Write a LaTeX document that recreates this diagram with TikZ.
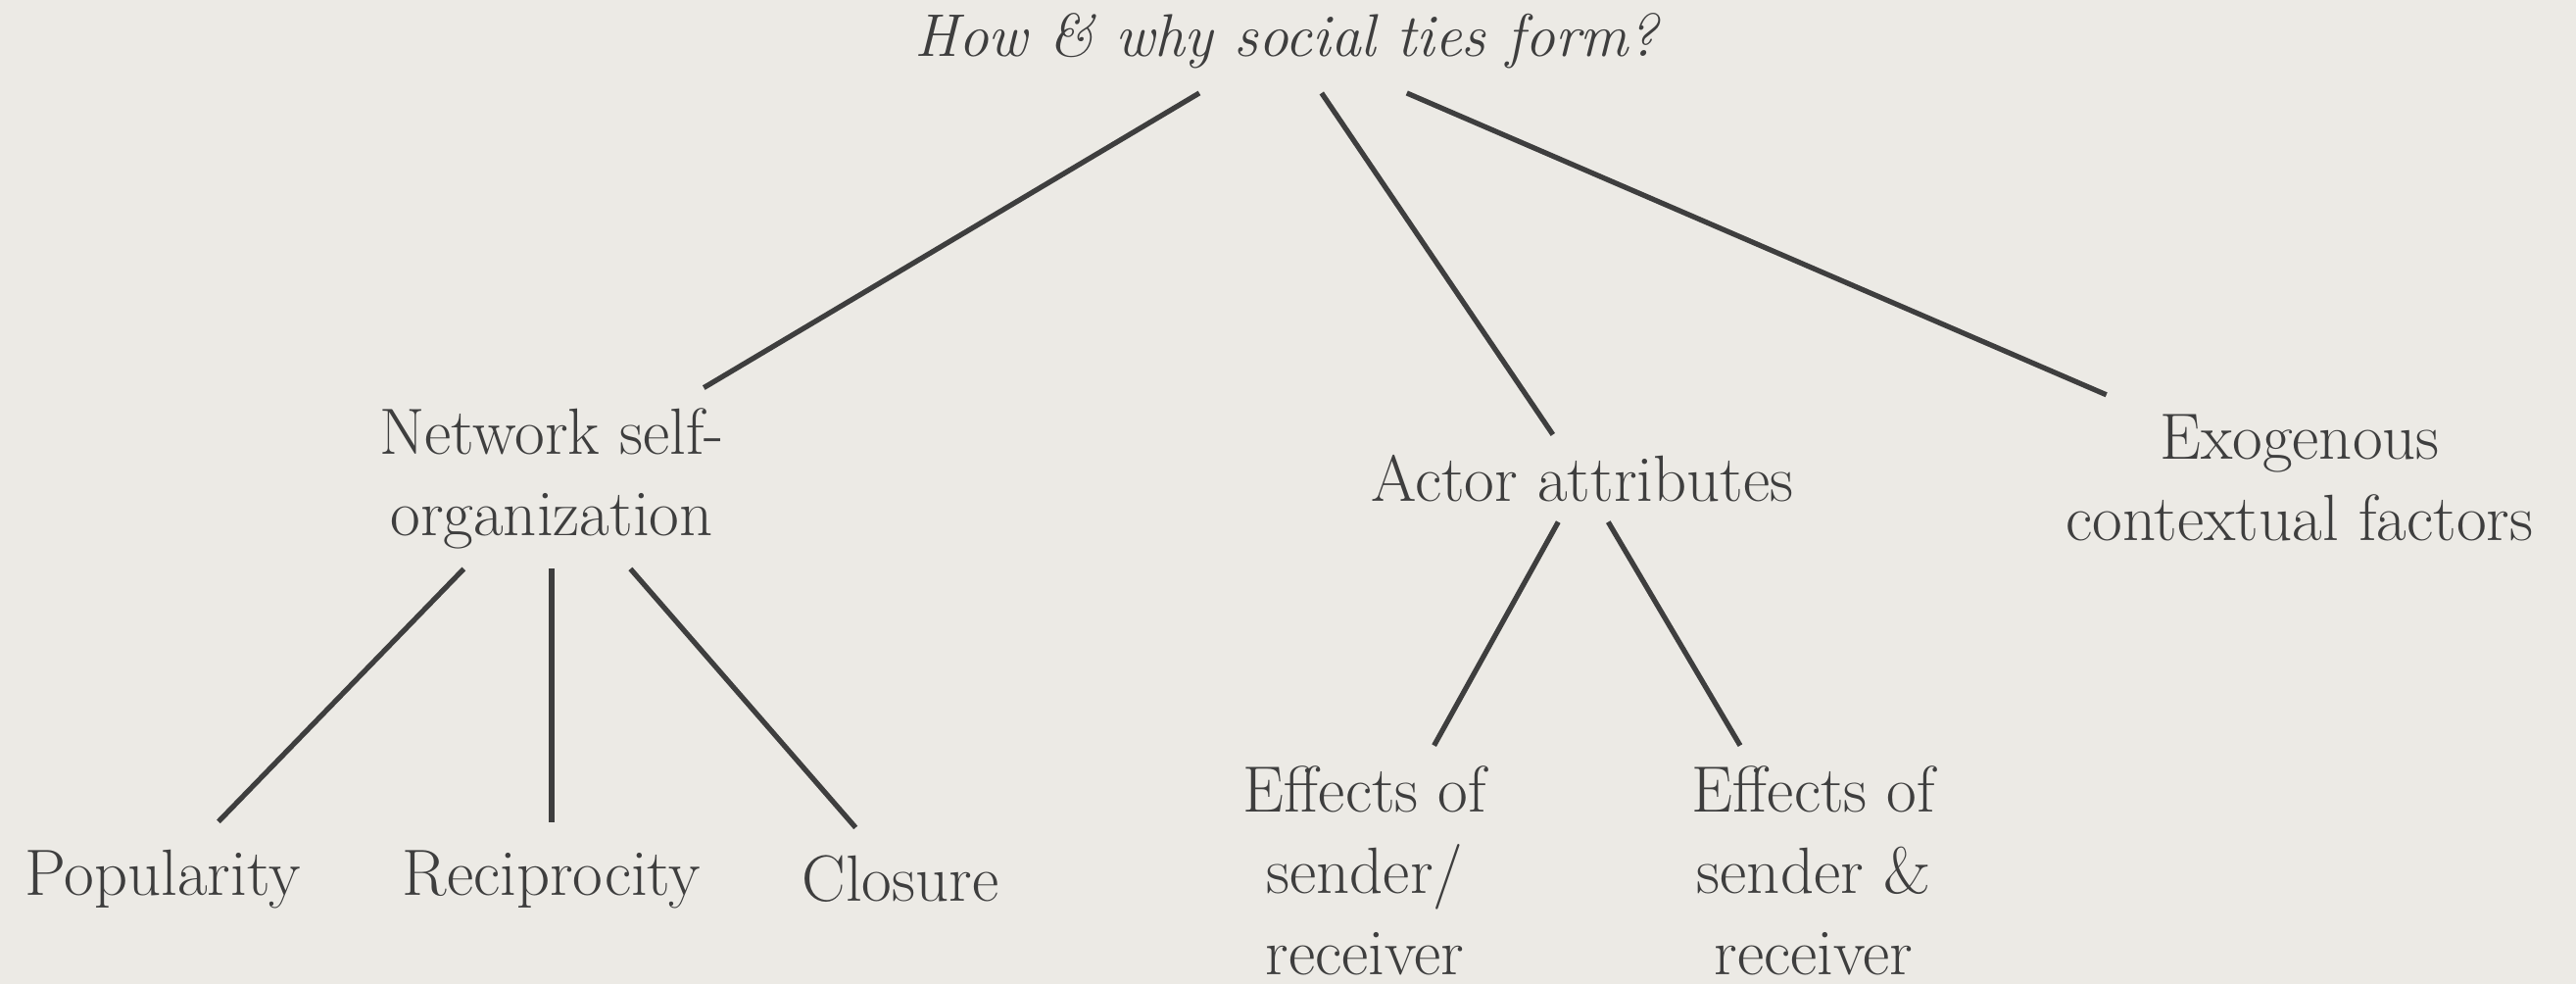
\documentclass[tikz,border=0pt]{standalone}
\usepackage{xcolor}
\definecolor{paper}{RGB}{236,234,229}
\definecolor{ink}{RGB}{62,62,62}

\begin{document}
\begin{tikzpicture}[every node/.style={font=\fontsize{19}{23.6}\selectfont, text=ink, align=center, inner sep=0.2cm},
  link/.style={draw=ink, line width=1.5pt}]
  % paper
  \fill[paper] (0,0) rectangle (26.29,10.04);
  \useasboundingbox (0,0) rectangle (26.29,10.04);

  % question
  \node[font=\fontsize{17.5}{23.6}\selectfont\itshape, inner ysep=0.24cm] (question) at (13.13,9.62) {How \& why social ties form?};

  % three kinds of explanation
  \node (selforg) at (5.63,5.16) {Network self-\\organization};
  \node (actor) at (16.15,5.16) {Actor attributes};
  \node (exo) at (23.47,5.16) {Exogenous\\contextual factors};

  % structural effects
  \node[inner ysep=0.28cm] (popularity) at (1.66,1.07) {Popularity};
  \node[inner ysep=0.28cm] (reciprocity) at (5.63,1.07) {Reciprocity};
  \node[inner ysep=0.28cm] (closure) at (9.19,1.07) {Closure};

  % attribute effects
  \node (effone) at (13.93,1.16) {Effects of\\sender/\\receiver};
  \node (efftwo) at (18.51,1.16) {Effects of\\sender \&\\receiver};

  % links
  \draw[link] (question) -- (selforg);
  \draw[link] (question) -- (actor);
  \draw[link] (question) -- (exo);
  \draw[link] (selforg) -- (popularity);
  \draw[link] (selforg) -- (reciprocity);
  \draw[link] (selforg) -- (closure);
  \draw[link] (actor) -- (effone);
  \draw[link] (actor) -- (efftwo);
\end{tikzpicture}
\end{document}
